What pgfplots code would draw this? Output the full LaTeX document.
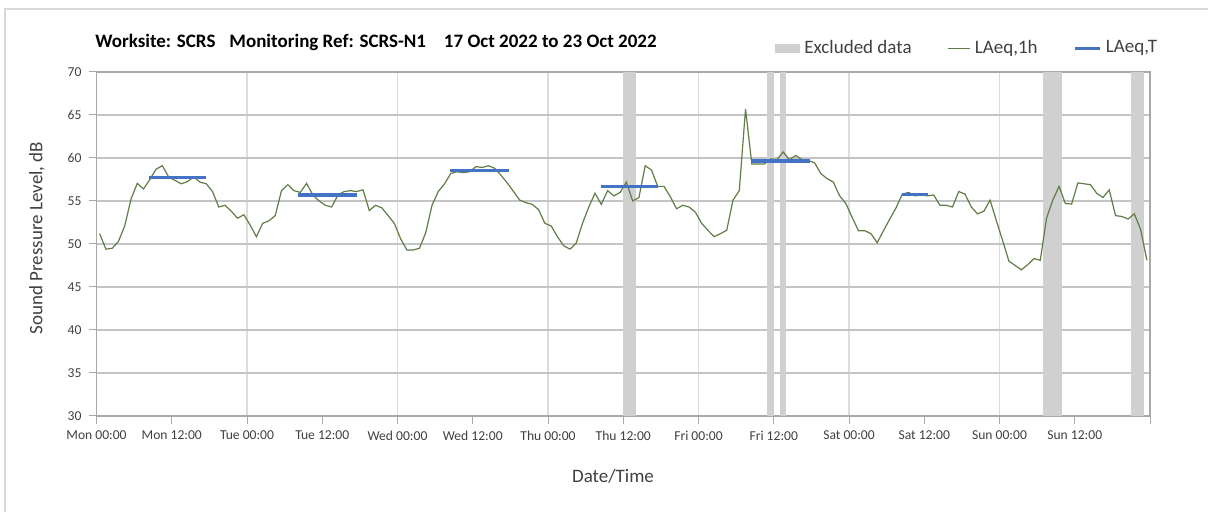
\documentclass[border=0pt]{standalone}
\usepackage{fontspec}
\setmainfont{Carlito}
\usepackage{pgfplots}
\pgfplotsset{compat=1.18}
\usepackage{pgfplotstable}
\definecolor{lgreen}{HTML}{5F7D46}
\definecolor{lblue}{HTML}{4472C4}
\definecolor{excl}{HTML}{D0D0D0}
\definecolor{hgrid}{HTML}{C4C4C4}
\definecolor{vgrid}{HTML}{DCDCDC}
\definecolor{axgray}{HTML}{A8A8A8}
\definecolor{framec}{HTML}{D9D9D9}
\definecolor{txt}{HTML}{404040}

\pgfplotstableread{
h L
0 51.2
1 49.4
2 49.5
3 50.3
4 52.1
5 55.2
6 57.05
7 56.4
8 57.5
9 58.7
10 59.1
11 57.8
12 57.4
13 57.0
14 57.25
15 57.8
16 57.2
17 57.0
18 56.1
19 54.3
20 54.5
21 53.8
22 53.0
23 53.4
24 52.2
25 50.85
26 52.4
27 52.7
28 53.3
29 56.2
30 56.9
31 56.2
32 56.0
33 57.05
34 55.7
35 55.0
36 54.5
37 54.3
38 55.7
39 56.1
40 56.2
41 56.1
42 56.3
43 53.9
44 54.5
45 54.2
46 53.3
47 52.4
48 50.6
49 49.3
50 49.3
51 49.5
52 51.3
53 54.5
54 56.1
55 57.0
56 58.2
57 58.4
58 58.3
59 58.4
60 59.0
61 58.9
62 59.1
63 58.8
64 58.0
65 57.1
66 56.1
67 55.1
68 54.8
69 54.6
70 54.0
71 52.4
72 52.1
73 50.85
74 49.8
75 49.4
76 50.1
77 52.4
78 54.3
79 55.9
80 54.6
81 56.2
82 55.6
83 56.0
84 57.2
85 55.0
86 55.4
87 59.1
88 58.6
89 56.7
90 56.7
91 55.5
92 54.1
93 54.5
94 54.3
95 53.7
96 52.4
97 51.6
98 50.85
99 51.2
100 51.6
101 55.1
102 56.2
103 65.7
104 59.3
105 59.3
106 59.3
107 59.9
108 59.8
109 60.7
110 59.8
111 60.3
112 59.8
113 59.7
114 59.45
115 58.2
116 57.6
117 57.2
118 55.6
119 54.7
120 53.1
121 51.55
122 51.55
123 51.2
124 50.15
125 51.55
126 52.9
127 54.2
128 55.8
129 56.0
130 55.6
131 55.7
132 55.6
133 55.7
134 54.5
135 54.5
136 54.3
137 56.1
138 55.8
139 54.3
140 53.5
141 53.8
142 55.1
143 52.7
144 50.4
145 48.0
146 47.5
147 47.0
148 47.6
149 48.3
150 48.1
151 53.0
152 55.1
153 56.7
154 54.7
155 54.65
156 57.1
157 57.0
158 56.9
159 55.9
160 55.4
161 56.3
162 53.3
163 53.2
164 52.9
165 53.5
166 51.7
167 48.1
}\laeq

\begin{document}
\begin{tikzpicture}
\path[use as bounding box] (0,0) rectangle (604pt,256pt);
\draw[framec, line width=0.6pt] (2.5pt,0pt) -- (2.5pt,251.5pt) -- (604pt,251.5pt);
\node[anchor=base west, inner sep=0pt, font=\bfseries\fontsize{9.5}{11}\selectfont] at (47.5pt,232pt)
  {Worksite: SCRS\hspace{7pt}Monitoring Ref: SCRS-N1\hspace{9pt}17 Oct 2022 to 23 Oct 2022};
\node[font=\fontsize{9.5}{11}\selectfont, text=txt] at (306.5pt,18pt) {Date/Time};
\node[rotate=90, font=\fontsize{9.5}{11}\selectfont, text=txt] at (18.5pt,137pt) {Sound Pressure Level, dB};
\begin{axis}[
  at={(48.25pt,48pt)}, anchor=south west,
  scale only axis, width=526.75pt, height=172pt,
  xmin=0, xmax=168, ymin=30, ymax=70,
  xtick={0,12,...,168},
  xticklabels={Mon 00:00, Mon 12:00, Tue 00:00, Tue 12:00, Wed 00:00, Wed 12:00, Thu 00:00, Thu 12:00, Fri 00:00, Fri 12:00, Sat 00:00, Sat 12:00, Sun 00:00, Sun 12:00, {}},
  minor xtick={24,48,...,144},
  xminorgrids=true,
  minor x grid style={vgrid, line width=0.6pt},
  ytick={30,35,...,70},
  ymajorgrids=true,
  major y grid style={hgrid, line width=0.6pt},
  minor tick length=0pt,
  tick align=outside,
  tick pos=left,
  major tick length=4pt,
  every tick/.style={axgray, line width=0.5pt},
  axis line style={axgray, line width=0.7pt},
  /pgf/number format/assume math mode=true,
  ticklabel style={font=\fontsize{6.8}{8}\selectfont, text=txt},
  legend columns=3,
  legend style={at={(rel axis cs:0.644,1.069)}, anchor=west, draw=none, fill=none,
    inner sep=0pt, font=\fontsize{9.5}{11}\selectfont, text=txt,
    /tikz/every even column/.append style={column sep=16pt}},
  legend cell align=left,
]
\addplot[fill=excl, draw=none, legend image code/.code={\fill[excl] (0pt,-2.2pt) rectangle (12.5pt,2.2pt);}]
  coordinates {(84,30) (84,70) (86,70) (86,30)} -- cycle;
\addlegendentry{Excluded data}
\addplot[fill=excl, draw=none, forget plot] coordinates {(107,30) (107,70) (108,70) (108,30)} -- cycle;
\addplot[fill=excl, draw=none, forget plot] coordinates {(109,30) (109,70) (110,70) (110,30)} -- cycle;
\addplot[fill=excl, draw=none, forget plot] coordinates {(151,30) (151,70) (154,70) (154,30)} -- cycle;
\addplot[fill=excl, draw=none, forget plot] coordinates {(165,30) (165,70) (167,70) (167,30)} -- cycle;
\addplot[lgreen, line width=0.6pt, no marks, legend image code/.code={\draw[lgreen, line width=0.6pt] (0pt,0pt) -- (11pt,0pt);}]
  table[x expr=\thisrow{h}+0.5, y=L] {\laeq};
\addlegendentry{LAeq,1h}
\addplot[lblue, line width=1.6pt, no marks, unbounded coords=jump, legend image code/.code={\draw[lblue, line width=1.6pt] (0pt,0pt) -- (12.5pt,0pt);}]
  coordinates {(8.3,57.7) (17.5,57.7) (17.5,nan) (32.2,55.7) (41.6,55.7) (41.6,nan)
  (56.3,58.5) (65.7,58.5) (65.7,nan) (80.4,56.7) (89.6,56.7) (89.6,nan)
  (104.5,59.65) (113.7,59.65) (113.7,nan) (128.5,55.75) (132.6,55.75)};
\addlegendentry{LAeq,T}
\end{axis}
\end{tikzpicture}
\end{document}
